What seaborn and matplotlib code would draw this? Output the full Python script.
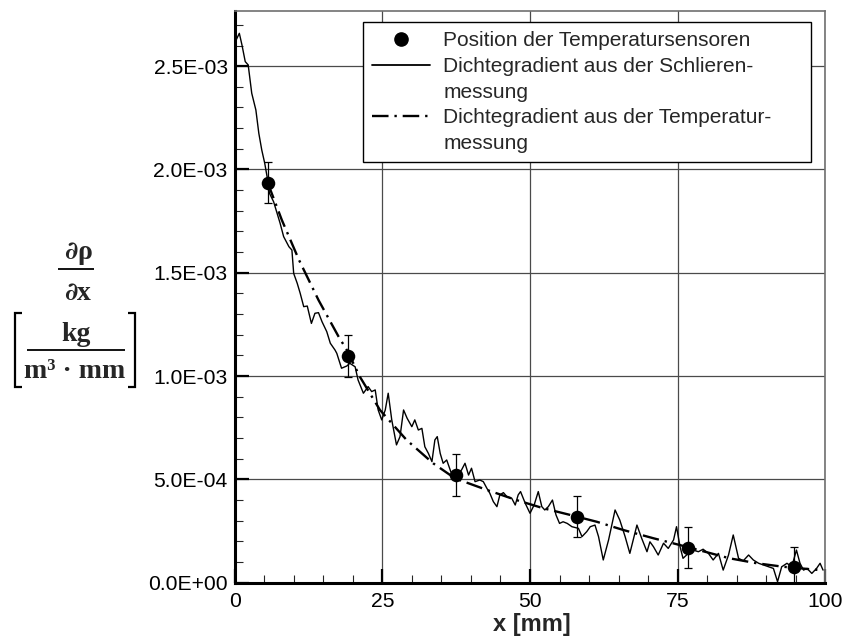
import numpy as np
import pandas as pd
import matplotlib
matplotlib.use("Agg")
import matplotlib.pyplot as plt
import seaborn as sns
from matplotlib.lines import Line2D
from matplotlib.ticker import MultipleLocator, FuncFormatter

# ---------------- data (y in 1e-3 kg/(m^3*mm)) ----------------
schlieren_x = [0.0, 0.8, 1.25, 1.8, 2.3, 2.9, 3.6, 4.1, 4.6, 5.1, 5.5, 5.9, 6.6, 7.2, 7.7, 8.3,
               9.2, 9.7, 10.0, 10.6, 11.1, 11.7, 12.3, 13.0, 13.6, 14.2, 14.8, 15.6, 16.2, 17.0,
               17.3, 18.1, 19.0, 19.5, 20.4, 20.9, 21.8, 22.6, 23.2, 23.8, 24.3, 24.9, 25.5, 26.0,
               26.6, 27.4, 28.0, 28.6, 29.2, 30.0, 30.5, 31.1, 31.7, 32.2, 32.8, 33.4, 33.9, 34.3,
               34.8, 35.3, 35.9, 36.6, 37.3, 37.9, 38.4, 39.0, 39.6, 40.1, 40.7, 41.5, 42.1, 42.7,
               43.2, 43.8, 44.4, 44.9, 45.5, 46.1, 46.9, 47.5, 48.0, 48.4, 49.2, 50.0, 50.7, 51.4,
               52.0, 52.5, 53.1, 53.8, 54.4, 55.0, 55.6, 56.3, 57.1, 58.2, 58.8, 59.6, 60.2, 61.0,
               61.6, 62.4, 63.3, 64.4, 65.2, 66.1, 66.9, 68.1, 68.9, 69.8, 70.3, 70.9, 71.7, 72.6,
               73.4, 74.3, 74.8, 75.4, 75.9, 76.8, 77.6, 78.5, 79.3, 80.2, 81.0, 81.9, 82.7, 83.6,
               84.4, 85.3, 86.1, 87.0, 87.8, 88.7, 89.5, 90.4, 91.2, 91.9, 92.6, 93.5, 94.3, 95.1,
               95.7, 96.3, 96.9, 97.7, 98.5, 99.1, 99.6]
schlieren_y = [2.611, 2.659, 2.602, 2.522, 2.506, 2.369, 2.288, 2.175, 2.094, 2.030, 1.965, 1.885,
               1.844, 1.788, 1.740, 1.675, 1.626, 1.610, 1.497, 1.449, 1.401, 1.336, 1.339, 1.255,
               1.304, 1.307, 1.263, 1.215, 1.159, 1.126, 1.110, 1.038, 1.049, 1.062, 1.045, 0.981,
               0.917, 0.949, 0.925, 0.933, 0.836, 0.788, 0.836, 0.917, 0.788, 0.667, 0.707, 0.836,
               0.796, 0.755, 0.788, 0.739, 0.747, 0.658, 0.626, 0.586, 0.691, 0.707, 0.626, 0.578,
               0.594, 0.537, 0.505, 0.529, 0.545, 0.578, 0.521, 0.554, 0.489, 0.497, 0.489, 0.457,
               0.433, 0.392, 0.368, 0.425, 0.436, 0.416, 0.409, 0.376, 0.425, 0.441, 0.384, 0.336,
               0.376, 0.441, 0.368, 0.352, 0.368, 0.400, 0.328, 0.287, 0.295, 0.287, 0.271, 0.263,
               0.223, 0.247, 0.271, 0.279, 0.223, 0.110, 0.207, 0.352, 0.303, 0.223, 0.142, 0.279,
               0.215, 0.150, 0.198, 0.174, 0.134, 0.191, 0.166, 0.207, 0.271, 0.174, 0.118, 0.142,
               0.158, 0.150, 0.162, 0.142, 0.110, 0.142, 0.061, 0.134, 0.231, 0.118, 0.106, 0.134,
               0.110, 0.094, 0.086, 0.077, 0.069, 0.005, 0.077, 0.094, 0.077, 0.158, 0.094, 0.061,
               0.069, 0.045, 0.069, 0.094, 0.061]

temp_curve_x = [5.6, 8.0, 10.9, 14.2, 17.6, 19.0, 21.2, 24.6, 29.1, 33.6, 37.3, 42.7, 47.7, 52.3,
                56.8, 61.3, 65.8, 70.9, 75.4, 83.8, 88.4, 92.9, 99.5]
temp_curve_y = [1.936, 1.755, 1.562, 1.368, 1.191, 1.126, 0.997, 0.836, 0.691, 0.578, 0.505,
                0.449, 0.400, 0.360, 0.328, 0.295, 0.255, 0.215, 0.182, 0.118, 0.094, 0.077, 0.060]

sensor_x = [5.6, 19.2, 37.4, 57.9, 76.7, 94.7]
sensor_y = [1.936, 1.097, 0.521, 0.319, 0.169, 0.075]
sensor_err = [0.10, 0.10, 0.10, 0.10, 0.10, 0.10]

x_ticks = [0, 25, 50, 75, 100]
y_ticks = [0.0, 0.5e-3, 1.0e-3, 1.5e-3, 2.0e-3, 2.5e-3]

legend_labels = ["Position der Temperatursensoren",
                 "Dichtegradient aus der Schlieren-", "messung",
                 "Dichtegradient aus der Temperatur-", "messung"]

UNIT = 1e-3
df_s = pd.DataFrame({"x": schlieren_x, "y": np.array(schlieren_y) * UNIT})
df_t = pd.DataFrame({"x": temp_curve_x, "y": np.array(temp_curve_y) * UNIT})
df_p = pd.DataFrame({"x": sensor_x, "y": np.array(sensor_y) * UNIT,
                     "err": np.array(sensor_err) * UNIT})

# ---------------- style ----------------
sns.set_theme(style="white")
plt.rcParams["font.family"] = ["Liberation Sans", "DejaVu Sans"]

W, H = 843, 640
fig = plt.figure(figsize=(W / 100, H / 100), dpi=100)
fig.patch.set_facecolor("white")

def fx(px):
    return px / W

def fy(py):
    return 1 - py / H

x0, x1 = 234.6, 825.4
y0, y1 = 582.7, 11.0
ax = fig.add_axes([fx(x0), fy(y0), (x1 - x0) / W, (y0 - y1) / H])
ax.set_facecolor("white")

DASHDOT = (0, (7, 2.5, 1, 2.5))

# lines
sns.lineplot(data=df_s, x="x", y="y", ax=ax, color="black", linewidth=1.0,
             estimator=None, sort=False, zorder=3)
sns.lineplot(data=df_t, x="x", y="y", ax=ax, color="black", linewidth=1.7,
             estimator=None, sort=False, linestyle=DASHDOT, zorder=3)
ax.errorbar(df_p["x"], df_p["y"], yerr=df_p["err"], fmt="none", ecolor="black",
            elinewidth=0.9, capsize=3, capthick=0.9, zorder=4)
sns.scatterplot(data=df_p, x="x", y="y", ax=ax, color="black", edgecolor="black",
                s=95, linewidth=0, zorder=5)

ax.set_xlim(0, 100)
ax.set_ylim(0, 2.767e-3)
ax.set_xticks(x_ticks)
ax.set_xticklabels([str(v) for v in x_ticks])
ax.set_yticks(y_ticks)
ax.yaxis.set_major_formatter(FuncFormatter(lambda v, p: f"{v:.1E}"))
ax.xaxis.set_minor_locator(MultipleLocator(5))
ax.yaxis.set_minor_locator(MultipleLocator(1e-4))

ax.grid(True, which="major", color="#4a4a4a", linewidth=0.9)
ax.set_axisbelow(True)

ax.tick_params(axis="both", which="major", direction="in", length=10, width=1.6,
               labelsize=15.2, colors="black", bottom=True, left=True, top=False, right=False)
ax.tick_params(axis="both", which="minor", direction="in", length=5.5, width=0.8,
               bottom=True, left=True, top=False, right=False)
ax.tick_params(axis="x", which="major", pad=6.5)
ax.tick_params(axis="y", which="major", pad=5)

for s in ["left", "bottom"]:
    ax.spines[s].set_color("black")
    ax.spines[s].set_linewidth(2.2)
for s in ["top", "right"]:
    ax.spines[s].set_color("#707070")
    ax.spines[s].set_linewidth(1.2)

ax.set_ylabel("")
ax.set_xlabel("x [mm]", fontsize=17, fontweight="bold", va="center")
ax.xaxis.set_label_coords((532 - x0) / (x1 - x0), (y0 - 624) / (y0 - y1))

# legend
handles = [
    Line2D([], [], linestyle="none", marker="o", markersize=9.5, color="black"),
    Line2D([], [], color="black", linewidth=1.3),
    Line2D([], [], linestyle="none"),
    Line2D([], [], color="black", linewidth=1.7, linestyle=DASHDOT),
    Line2D([], [], linestyle="none"),
]
leg = ax.legend(handles, legend_labels, loc="upper left",
                bbox_to_anchor=(fx(363), fy(161), (811 - 363) / W, (161 - 22) / H),
                bbox_transform=fig.transFigure, mode="expand", borderaxespad=0,
                frameon=True, fancybox=False, framealpha=1, edgecolor="black",
                prop={"family": "Liberation Sans", "size": 15},
                handlelength=2.75, handletextpad=0.65, borderpad=0.45, labelspacing=0.32)
leg.get_frame().set_linewidth(1.0)

# y-axis label (stacked fraction with brackets)
serif = {"family": ["Liberation Serif", "DejaVu Serif"], "weight": "bold", "size": 20}
partial = {"family": ["DejaVu Serif"], "weight": "bold", "size": 18}
fig.text(fx(77), fy(259), "∂", ha="right", va="baseline", **partial)
fig.text(fx(77), fy(259), "ρ", ha="left", va="baseline", **serif)
fig.text(fx(77), fy(300), "∂", ha="right", va="baseline", **partial)
fig.text(fx(77), fy(300), "x", ha="left", va="baseline", **serif)
fig.text(fx(76), fy(341), "kg", ha="center", va="baseline", **serif)
fig.text(fx(75), fy(378), "m³ · mm", ha="center", va="baseline", **serif)

def fline(xs, ys, lw):
    fig.add_artist(Line2D([fx(v) for v in xs], [fy(v) for v in ys],
                          transform=fig.transFigure, color="black", linewidth=lw,
                          solid_capstyle="butt", solid_joinstyle="miter"))

fline([58, 94], [269, 269], 1.3)
fline([27, 125], [350, 350], 1.3)
fline([22, 15, 15, 22], [313, 313, 387, 387], 1.6)
fline([128, 135, 135, 128], [313, 313, 387, 387], 1.6)

fig.savefig("out.png", dpi=100, facecolor="white")
